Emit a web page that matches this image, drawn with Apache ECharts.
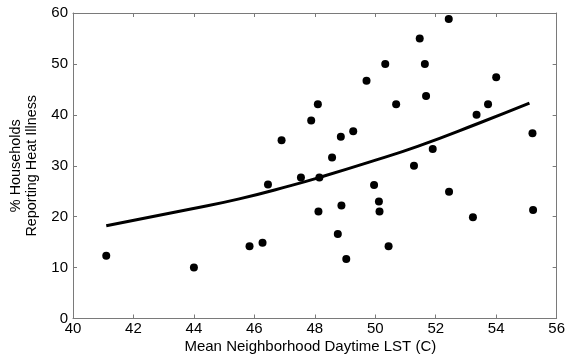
<!DOCTYPE html>
<html>
<head>
<meta charset="utf-8">
<script src="https://cdn.jsdelivr.net/npm/echarts@6/dist/echarts.min.js"></script>
<style>html,body{margin:0;padding:0;background:#fff;}#c{width:568px;height:359px;}</style>
</head>
<body>
<div id="c"></div>
<script>
// Scatter data: mean neighborhood daytime LST (C) and % households reporting heat illness
const lst = [41.1, 44.0, 45.84, 46.27, 46.45, 46.9, 47.54, 47.88, 48.1, 48.12, 48.15, 48.57, 48.76, 48.86, 48.88, 49.04, 49.27, 49.71, 49.96, 50.12, 50.14, 50.33, 50.44, 50.69, 51.28, 51.47, 51.64, 51.68, 51.9, 52.43, 52.44, 53.23, 53.35, 53.73, 54.0, 55.2, 55.22];
const pct = [12.3, 10.0, 14.2, 14.9, 26.3, 35.0, 27.7, 38.9, 42.1, 21.0, 27.7, 31.6, 16.6, 35.7, 22.2, 11.7, 36.8, 46.7, 26.2, 23.0, 21.0, 50.0, 14.2, 42.1, 30.0, 55.0, 50.0, 43.7, 33.3, 58.8, 24.9, 19.9, 40.0, 42.1, 47.4, 36.4, 21.3];
// Fitted curve
const fitX = [41.1, 43.9, 45.5, 47.2, 48.15, 49.8, 51.4, 53.4, 55.1];
const fitY = [18.2, 21.5, 23.5, 26.1, 27.7, 30.7, 33.8, 38.3, 42.3];
const xTicks = {min: 40, max: 56, interval: 2};
const yTicks = {min: 0, max: 60, interval: 10};

const chart = echarts.init(document.getElementById('c'));
const axisColor = '#7a7a7a';
const font = '"Liberation Sans", Arial, sans-serif';
function xa(pos, show) {
  return {
    type: 'value', position: pos, min: xTicks.min, max: xTicks.max, interval: xTicks.interval,
    axisLine: {show: true, onZero: false, lineStyle: {color: axisColor, width: 1}},
    axisTick: {show: true, inside: true, length: 4, lineStyle: {color: axisColor}},
    axisLabel: {show: show, color: '#000', fontSize: 15, fontFamily: font, margin: 3},
    splitLine: {show: false},
    name: show ? 'Mean Neighborhood Daytime LST (C)' : '', nameLocation: 'middle', nameGap: 20.5,
    nameMoveOverlap: false,
    nameTextStyle: {color: '#000', fontSize: 15, fontFamily: font, verticalAlign: 'top', padding: [0, 9, 0, 0]}
  };
}
function ya(pos, show) {
  return {
    type: 'value', position: pos, min: yTicks.min, max: yTicks.max, interval: yTicks.interval,
    axisLine: {show: true, onZero: false, lineStyle: {color: axisColor, width: 1}},
    axisTick: {show: true, inside: true, length: 4, lineStyle: {color: axisColor}},
    axisLabel: {show: show, color: '#000', fontSize: 15, fontFamily: font, margin: 5},
    splitLine: {show: false},
    name: show ? '% Households\nReporting Heat Illness' : '', nameLocation: 'middle', nameGap: 33,
    nameMoveOverlap: false,
    nameTextStyle: {color: '#000', fontSize: 14.4, fontFamily: font, lineHeight: 16, verticalAlign: 'bottom'}
  };
}
chart.setOption({
  animation: false,
  backgroundColor: '#fff',
  grid: {left: 70.7, right: 8, top: 13, bottom: 40.5},
  xAxis: [xa('bottom', true), xa('top', false)],
  yAxis: [ya('left', true), ya('right', false)],
  series: [
    {type: 'scatter', data: lst.map((x, i) => [x, pct[i]]), symbol: 'circle', symbolSize: 8,
     itemStyle: {color: '#000', opacity: 1}, z: 3},
    {type: 'line', data: fitX.map((x, i) => [x, fitY[i]]), smooth: true, showSymbol: false,
     lineStyle: {color: '#000', width: 3}, z: 2}
  ]
});
</script>
</body>
</html>
